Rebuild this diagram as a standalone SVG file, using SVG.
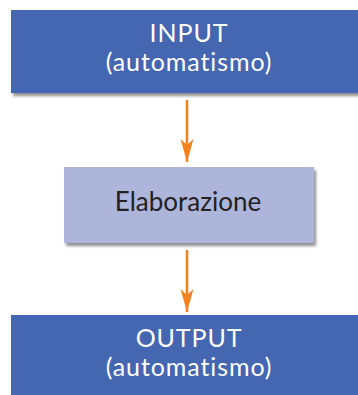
<svg xmlns="http://www.w3.org/2000/svg" width="358" height="395" viewBox="0 0 358 395">
  <defs>
    <filter id="shadow" x="-10%" y="-10%" width="130%" height="140%">
      <feGaussianBlur in="SourceAlpha" stdDeviation="1.5"/>
      <feOffset dx="2" dy="3" result="b"/>
      <feComponentTransfer><feFuncA type="linear" slope="0.45"/></feComponentTransfer>
      <feMerge><feMergeNode/><feMergeNode in="SourceGraphic"/></feMerge>
    </filter>
    <!-- arrowhead pointing along +x, tip at the line end -->
    <marker id="arrow" markerWidth="24" markerHeight="14" refX="23" refY="7" orient="auto" markerUnits="userSpaceOnUse" viewBox="0 0 24 14">
      <path d="M23,7 L0,0.5 L6,7 L0,13.5 Z" fill="#F5821F"/>
    </marker>
  </defs>
  <style>
    .dark { fill: #4566B0; }
    .light { fill: #ADB5DA; }
    .t { font-family: Lato, "Noto Sans", sans-serif; text-anchor: middle; }
    .w { fill: #FFFFFF; font-size: 25px; letter-spacing: 0.9px; }
    .k { fill: #222222; font-size: 26px; }
    .conn { stroke: #F5821F; stroke-width: 2.5; fill: none; }
  </style>
  <rect width="358" height="395" fill="#FFFFFF"/>

  <g id="connectors">
    <line class="conn" x1="187" y1="100" x2="187" y2="162" marker-end="url(#arrow)"/>
    <line class="conn" x1="187" y1="250" x2="187" y2="312" marker-end="url(#arrow)"/>
  </g>

  <g id="input">
    <rect class="dark" x="11" y="10" width="360" height="83" filter="url(#shadow)"/>
    <text class="t w" x="189" y="42">INPUT</text>
    <text class="t w" x="189" y="71">(automatismo)</text>
  </g>

  <g id="elaborazione">
    <rect class="light" x="64" y="167" width="250" height="76" filter="url(#shadow)"/>
    <text class="t k" x="188" y="211">Elaborazione</text>
  </g>

  <g id="output">
    <rect class="dark" x="11" y="315" width="360" height="90" filter="url(#shadow)"/>
    <text class="t w" x="189" y="347">OUTPUT</text>
    <text class="t w" x="189" y="376">(automatismo)</text>
  </g>
</svg>
